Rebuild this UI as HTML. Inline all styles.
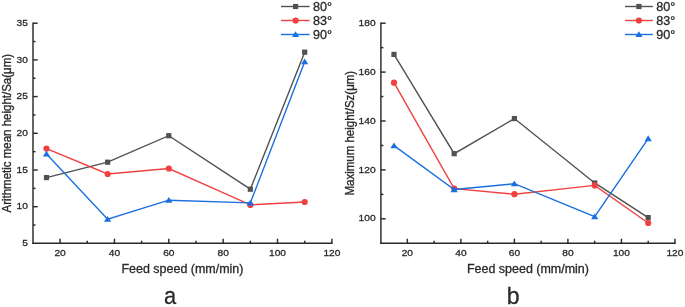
<!DOCTYPE html>
<html><head><meta charset="utf-8"><style>
html,body{margin:0;padding:0;background:#fff;width:685px;height:307px;overflow:hidden;}
svg{display:block;filter:blur(0.35px);}
text{font-family:"Liberation Sans", sans-serif;fill:#2a2a2a;stroke:#2a2a2a;stroke-width:0.3px;}
</style></head><body>
<svg width="685" height="307" viewBox="0 0 685 307">
<line x1="33.00" y1="22.50" x2="33.00" y2="243.90" stroke="#2a2a2a" stroke-width="1.45"/>
<line x1="32.30" y1="243.20" x2="332.58" y2="243.20" stroke="#2a2a2a" stroke-width="1.45"/>
<text transform="translate(27.90,246.00) scale(1.05,1.0)" font-size="9.7" text-anchor="end">5</text>
<line x1="33.00" y1="206.70" x2="37.70" y2="206.70" stroke="#2a2a2a" stroke-width="1.45"/>
<text transform="translate(27.90,209.30) scale(1.05,1.0)" font-size="9.7" text-anchor="end">10</text>
<line x1="33.00" y1="170.00" x2="37.70" y2="170.00" stroke="#2a2a2a" stroke-width="1.45"/>
<text transform="translate(27.90,172.60) scale(1.05,1.0)" font-size="9.7" text-anchor="end">15</text>
<line x1="33.00" y1="133.30" x2="37.70" y2="133.30" stroke="#2a2a2a" stroke-width="1.45"/>
<text transform="translate(27.90,135.90) scale(1.05,1.0)" font-size="9.7" text-anchor="end">20</text>
<line x1="33.00" y1="96.60" x2="37.70" y2="96.60" stroke="#2a2a2a" stroke-width="1.45"/>
<text transform="translate(27.90,99.20) scale(1.05,1.0)" font-size="9.7" text-anchor="end">25</text>
<line x1="33.00" y1="59.90" x2="37.70" y2="59.90" stroke="#2a2a2a" stroke-width="1.45"/>
<text transform="translate(27.90,62.50) scale(1.05,1.0)" font-size="9.7" text-anchor="end">30</text>
<line x1="33.00" y1="23.20" x2="37.70" y2="23.20" stroke="#2a2a2a" stroke-width="1.45"/>
<text transform="translate(27.90,25.80) scale(1.05,1.0)" font-size="9.7" text-anchor="end">35</text>
<line x1="33.00" y1="225.05" x2="35.50" y2="225.05" stroke="#2a2a2a" stroke-width="1.45"/>
<line x1="33.00" y1="188.35" x2="35.50" y2="188.35" stroke="#2a2a2a" stroke-width="1.45"/>
<line x1="33.00" y1="151.65" x2="35.50" y2="151.65" stroke="#2a2a2a" stroke-width="1.45"/>
<line x1="33.00" y1="114.95" x2="35.50" y2="114.95" stroke="#2a2a2a" stroke-width="1.45"/>
<line x1="33.00" y1="78.25" x2="35.50" y2="78.25" stroke="#2a2a2a" stroke-width="1.45"/>
<line x1="33.00" y1="41.55" x2="35.50" y2="41.55" stroke="#2a2a2a" stroke-width="1.45"/>
<line x1="60.08" y1="243.20" x2="60.08" y2="238.70" stroke="#2a2a2a" stroke-width="1.45"/>
<text transform="translate(60.08,255.50) scale(1.05,1.0)" font-size="9.7" text-anchor="middle">20</text>
<line x1="114.44" y1="243.20" x2="114.44" y2="238.70" stroke="#2a2a2a" stroke-width="1.45"/>
<text transform="translate(114.44,255.50) scale(1.05,1.0)" font-size="9.7" text-anchor="middle">40</text>
<line x1="168.80" y1="243.20" x2="168.80" y2="238.70" stroke="#2a2a2a" stroke-width="1.45"/>
<text transform="translate(168.80,255.50) scale(1.05,1.0)" font-size="9.7" text-anchor="middle">60</text>
<line x1="223.16" y1="243.20" x2="223.16" y2="238.70" stroke="#2a2a2a" stroke-width="1.45"/>
<text transform="translate(223.16,255.50) scale(1.05,1.0)" font-size="9.7" text-anchor="middle">80</text>
<line x1="277.52" y1="243.20" x2="277.52" y2="238.70" stroke="#2a2a2a" stroke-width="1.45"/>
<text transform="translate(277.52,255.50) scale(1.05,1.0)" font-size="9.7" text-anchor="middle">100</text>
<line x1="331.88" y1="243.20" x2="331.88" y2="238.70" stroke="#2a2a2a" stroke-width="1.45"/>
<text transform="translate(331.88,255.50) scale(1.05,1.0)" font-size="9.7" text-anchor="middle">120</text>
<line x1="87.26" y1="243.20" x2="87.26" y2="240.70" stroke="#2a2a2a" stroke-width="1.45"/>
<line x1="141.62" y1="243.20" x2="141.62" y2="240.70" stroke="#2a2a2a" stroke-width="1.45"/>
<line x1="195.98" y1="243.20" x2="195.98" y2="240.70" stroke="#2a2a2a" stroke-width="1.45"/>
<line x1="250.34" y1="243.20" x2="250.34" y2="240.70" stroke="#2a2a2a" stroke-width="1.45"/>
<line x1="304.70" y1="243.20" x2="304.70" y2="240.70" stroke="#2a2a2a" stroke-width="1.45"/>
<text transform="translate(182.44,273.10) scale(1.04,1.0)" font-size="12" text-anchor="middle">Feed speed (mm/min)</text>
<text font-size="11.5" text-anchor="middle" transform="translate(10.90,133.20) rotate(-90) scale(1,1.05)">Arithmetic mean height/Sa(μm)</text>
<polyline points="46.49,177.57 107.65,162.20 168.80,135.70 250.34,189.21 304.70,52.18" fill="none" stroke="#515151" stroke-width="1.4" stroke-linejoin="miter"/>
<rect x="43.89" y="174.97" width="5.2" height="5.2" fill="#515151"/>
<rect x="105.05" y="159.60" width="5.2" height="5.2" fill="#515151"/>
<rect x="166.20" y="133.10" width="5.2" height="5.2" fill="#515151"/>
<rect x="247.74" y="186.61" width="5.2" height="5.2" fill="#515151"/>
<rect x="302.10" y="49.58" width="5.2" height="5.2" fill="#515151"/>
<polyline points="46.49,148.58 107.65,173.98 168.80,168.49 250.34,204.88 304.70,202.02" fill="none" stroke="#F14040" stroke-width="1.4" stroke-linejoin="miter"/>
<circle cx="46.49" cy="148.58" r="3.1" fill="#F14040"/>
<circle cx="107.65" cy="173.98" r="3.1" fill="#F14040"/>
<circle cx="168.80" cy="168.49" r="3.1" fill="#F14040"/>
<circle cx="250.34" cy="204.88" r="3.1" fill="#F14040"/>
<circle cx="304.70" cy="202.02" r="3.1" fill="#F14040"/>
<polyline points="46.49,153.93 107.65,219.22 168.80,200.19 250.34,202.90 304.70,61.70" fill="none" stroke="#1A6FDF" stroke-width="1.4" stroke-linejoin="miter"/>
<polygon points="46.49,150.74 50.09,156.54 42.89,156.54" fill="#1A6FDF"/>
<polygon points="107.65,216.03 111.25,221.83 104.05,221.83" fill="#1A6FDF"/>
<polygon points="168.80,197.00 172.40,202.80 165.20,202.80" fill="#1A6FDF"/>
<polygon points="250.34,199.71 253.94,205.51 246.74,205.51" fill="#1A6FDF"/>
<polygon points="304.70,58.51 308.30,64.31 301.10,64.31" fill="#1A6FDF"/>
<line x1="281.00" y1="6.50" x2="309.60" y2="6.50" stroke="#515151" stroke-width="1.4"/>
<rect x="293.00" y="3.90" width="5.2" height="5.2" fill="#515151"/>
<text transform="translate(312.90,10.70) scale(1.05,1.0)" font-size="12" text-anchor="start">80°</text>
<line x1="281.00" y1="20.50" x2="309.60" y2="20.50" stroke="#F14040" stroke-width="1.4"/>
<circle cx="295.60" cy="20.50" r="3.1" fill="#F14040"/>
<text transform="translate(312.90,24.70) scale(1.05,1.0)" font-size="12" text-anchor="start">83°</text>
<line x1="281.00" y1="34.50" x2="309.60" y2="34.50" stroke="#1A6FDF" stroke-width="1.4"/>
<polygon points="295.60,31.31 299.20,37.11 292.00,37.11" fill="#1A6FDF"/>
<text transform="translate(312.90,38.70) scale(1.05,1.0)" font-size="12" text-anchor="start">90°</text>
<text transform="translate(170.10,304.00) scale(0.93,1.0)" font-size="23.5" text-anchor="middle" fill="#000" stroke="none">a</text>
<line x1="380.90" y1="22.50" x2="380.90" y2="243.90" stroke="#2a2a2a" stroke-width="1.45"/>
<line x1="380.20" y1="243.20" x2="675.66" y2="243.20" stroke="#2a2a2a" stroke-width="1.45"/>
<line x1="380.90" y1="218.80" x2="385.60" y2="218.80" stroke="#2a2a2a" stroke-width="1.45"/>
<text transform="translate(375.60,221.40) scale(1.05,1.0)" font-size="9.7" text-anchor="end">100</text>
<line x1="380.90" y1="169.90" x2="385.60" y2="169.90" stroke="#2a2a2a" stroke-width="1.45"/>
<text transform="translate(375.60,172.50) scale(1.05,1.0)" font-size="9.7" text-anchor="end">120</text>
<line x1="380.90" y1="121.00" x2="385.60" y2="121.00" stroke="#2a2a2a" stroke-width="1.45"/>
<text transform="translate(375.60,123.60) scale(1.05,1.0)" font-size="9.7" text-anchor="end">140</text>
<line x1="380.90" y1="72.10" x2="385.60" y2="72.10" stroke="#2a2a2a" stroke-width="1.45"/>
<text transform="translate(375.60,74.70) scale(1.05,1.0)" font-size="9.7" text-anchor="end">160</text>
<line x1="380.90" y1="23.20" x2="385.60" y2="23.20" stroke="#2a2a2a" stroke-width="1.45"/>
<text transform="translate(375.60,25.80) scale(1.05,1.0)" font-size="9.7" text-anchor="end">180</text>
<line x1="380.90" y1="194.35" x2="383.40" y2="194.35" stroke="#2a2a2a" stroke-width="1.45"/>
<line x1="380.90" y1="145.45" x2="383.40" y2="145.45" stroke="#2a2a2a" stroke-width="1.45"/>
<line x1="380.90" y1="96.55" x2="383.40" y2="96.55" stroke="#2a2a2a" stroke-width="1.45"/>
<line x1="380.90" y1="47.65" x2="383.40" y2="47.65" stroke="#2a2a2a" stroke-width="1.45"/>
<line x1="407.36" y1="243.20" x2="407.36" y2="238.70" stroke="#2a2a2a" stroke-width="1.45"/>
<text transform="translate(407.36,255.50) scale(1.05,1.0)" font-size="9.7" text-anchor="middle">20</text>
<line x1="460.88" y1="243.20" x2="460.88" y2="238.70" stroke="#2a2a2a" stroke-width="1.45"/>
<text transform="translate(460.88,255.50) scale(1.05,1.0)" font-size="9.7" text-anchor="middle">40</text>
<line x1="514.40" y1="243.20" x2="514.40" y2="238.70" stroke="#2a2a2a" stroke-width="1.45"/>
<text transform="translate(514.40,255.50) scale(1.05,1.0)" font-size="9.7" text-anchor="middle">60</text>
<line x1="567.92" y1="243.20" x2="567.92" y2="238.70" stroke="#2a2a2a" stroke-width="1.45"/>
<text transform="translate(567.92,255.50) scale(1.05,1.0)" font-size="9.7" text-anchor="middle">80</text>
<line x1="621.44" y1="243.20" x2="621.44" y2="238.70" stroke="#2a2a2a" stroke-width="1.45"/>
<text transform="translate(621.44,255.50) scale(1.05,1.0)" font-size="9.7" text-anchor="middle">100</text>
<line x1="674.96" y1="243.20" x2="674.96" y2="238.70" stroke="#2a2a2a" stroke-width="1.45"/>
<text transform="translate(674.96,255.50) scale(1.05,1.0)" font-size="9.7" text-anchor="middle">120</text>
<line x1="434.12" y1="243.20" x2="434.12" y2="240.70" stroke="#2a2a2a" stroke-width="1.45"/>
<line x1="487.64" y1="243.20" x2="487.64" y2="240.70" stroke="#2a2a2a" stroke-width="1.45"/>
<line x1="541.16" y1="243.20" x2="541.16" y2="240.70" stroke="#2a2a2a" stroke-width="1.45"/>
<line x1="594.68" y1="243.20" x2="594.68" y2="240.70" stroke="#2a2a2a" stroke-width="1.45"/>
<line x1="648.20" y1="243.20" x2="648.20" y2="240.70" stroke="#2a2a2a" stroke-width="1.45"/>
<text transform="translate(527.93,273.10) scale(1.04,1.0)" font-size="12" text-anchor="middle">Feed speed (mm/min)</text>
<text font-size="11.5" text-anchor="middle" transform="translate(354.30,133.20) rotate(-90) scale(1,1.05)">Maximum height/Sz(μm)</text>
<polyline points="393.98,54.38 454.19,153.68 514.40,118.55 594.68,182.96 648.20,217.61" fill="none" stroke="#515151" stroke-width="1.4" stroke-linejoin="miter"/>
<rect x="391.38" y="51.78" width="5.2" height="5.2" fill="#515151"/>
<rect x="451.59" y="151.08" width="5.2" height="5.2" fill="#515151"/>
<rect x="511.80" y="115.95" width="5.2" height="5.2" fill="#515151"/>
<rect x="592.08" y="180.36" width="5.2" height="5.2" fill="#515151"/>
<rect x="645.60" y="215.01" width="5.2" height="5.2" fill="#515151"/>
<polyline points="393.98,82.68 454.19,188.58 514.40,194.19 594.68,185.40 648.20,222.98" fill="none" stroke="#F14040" stroke-width="1.4" stroke-linejoin="miter"/>
<circle cx="393.98" cy="82.68" r="3.1" fill="#F14040"/>
<circle cx="454.19" cy="188.58" r="3.1" fill="#F14040"/>
<circle cx="514.40" cy="194.19" r="3.1" fill="#F14040"/>
<circle cx="594.68" cy="185.40" r="3.1" fill="#F14040"/>
<circle cx="648.20" cy="222.98" r="3.1" fill="#F14040"/>
<polyline points="393.98,145.63 454.19,189.55 514.40,183.70 594.68,216.64 648.20,138.56" fill="none" stroke="#1A6FDF" stroke-width="1.4" stroke-linejoin="miter"/>
<polygon points="393.98,142.44 397.58,148.24 390.38,148.24" fill="#1A6FDF"/>
<polygon points="454.19,186.36 457.79,192.16 450.59,192.16" fill="#1A6FDF"/>
<polygon points="514.40,180.51 518.00,186.31 510.80,186.31" fill="#1A6FDF"/>
<polygon points="594.68,213.45 598.28,219.25 591.08,219.25" fill="#1A6FDF"/>
<polygon points="648.20,135.37 651.80,141.17 644.60,141.17" fill="#1A6FDF"/>
<line x1="625.00" y1="6.50" x2="652.90" y2="6.50" stroke="#515151" stroke-width="1.4"/>
<rect x="636.30" y="3.90" width="5.2" height="5.2" fill="#515151"/>
<text transform="translate(656.30,10.70) scale(1.05,1.0)" font-size="12" text-anchor="start">80°</text>
<line x1="625.00" y1="20.50" x2="652.90" y2="20.50" stroke="#F14040" stroke-width="1.4"/>
<circle cx="638.90" cy="20.50" r="3.1" fill="#F14040"/>
<text transform="translate(656.30,24.70) scale(1.05,1.0)" font-size="12" text-anchor="start">83°</text>
<line x1="625.00" y1="34.50" x2="652.90" y2="34.50" stroke="#1A6FDF" stroke-width="1.4"/>
<polygon points="638.90,31.31 642.50,37.11 635.30,37.11" fill="#1A6FDF"/>
<text transform="translate(656.30,38.70) scale(1.05,1.0)" font-size="12" text-anchor="start">90°</text>
<text transform="translate(513.20,304.00) scale(0.98,1.0)" font-size="23.5" text-anchor="middle" fill="#000" stroke="none">b</text>
</svg>
</body></html>
